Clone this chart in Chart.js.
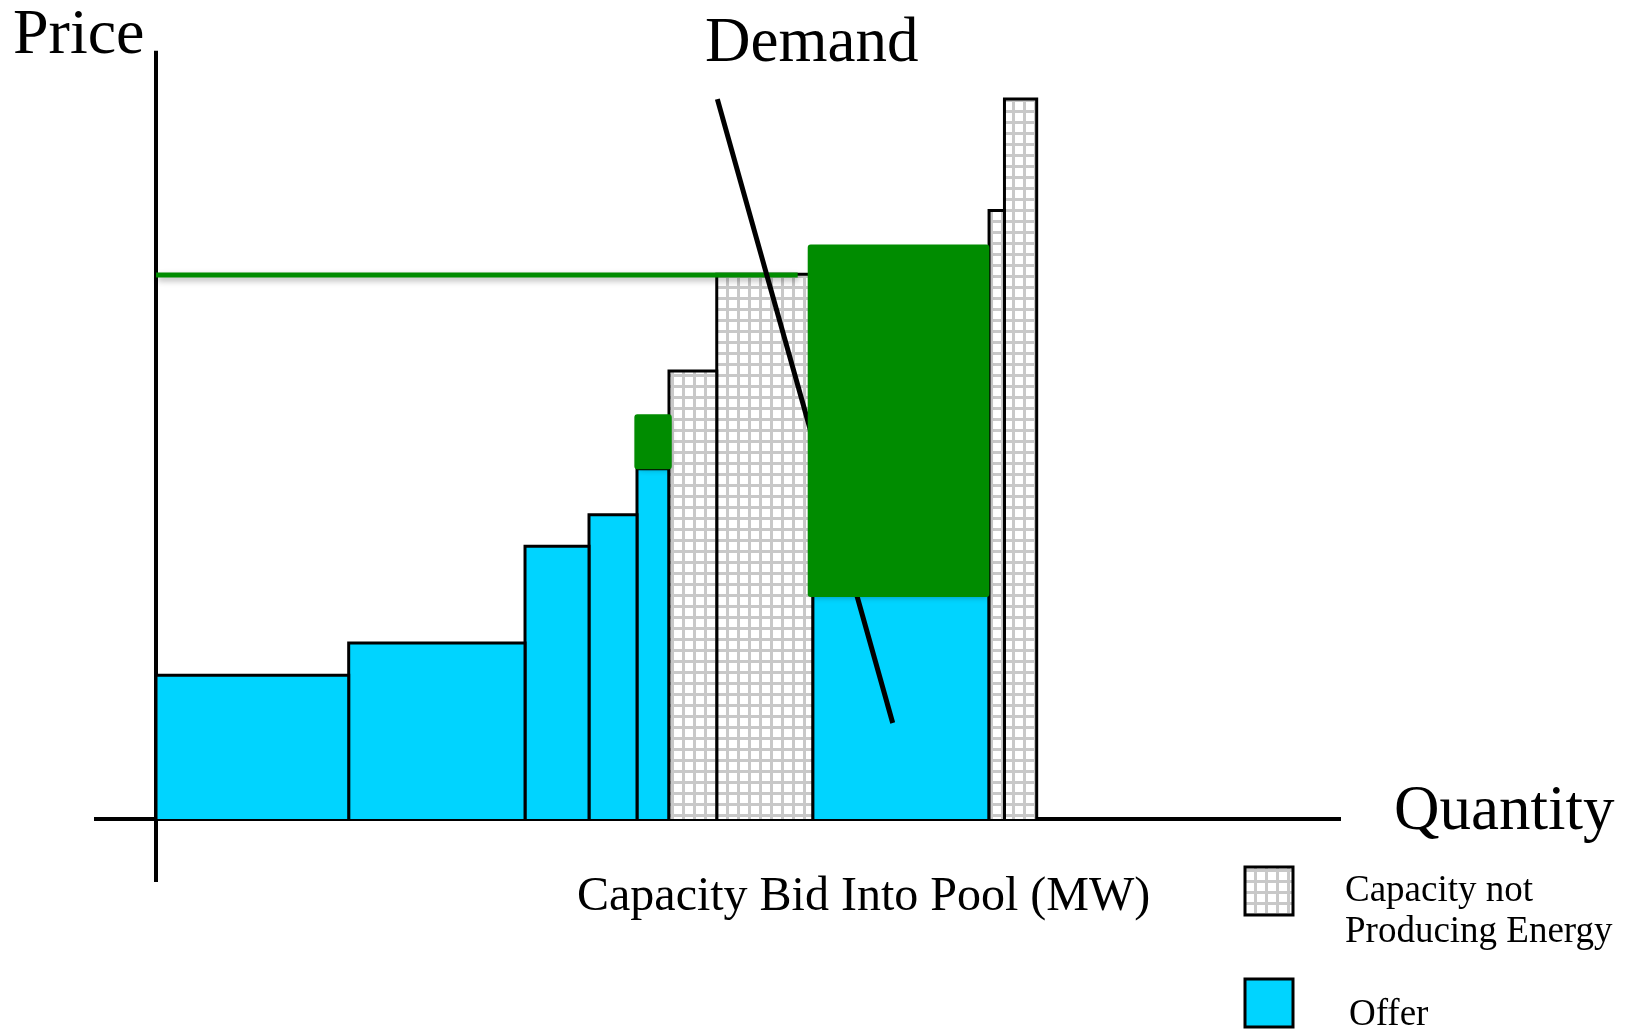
<!DOCTYPE html>
<html>
<head>
<meta charset="utf-8">
<script src="https://cdn.jsdelivr.net/npm/chart.js@4.4.1/dist/chart.umd.min.js"></script>
<style>
  html, body { margin: 0; padding: 0; background: #ffffff; }
  canvas { display: block; }
</style>
</head>
<body>
<canvas id="c" width="1635" height="1031"></canvas>
<script>
// ---------------- DATA (quantity in MW, price in $/MWh) ----------------
const offerStart = [0, 162.6, 311.4, 365.4, 405.9, 554.2];
const offerEnd   = [162.6, 311.4, 365.4, 405.9, 432.9, 703.0];
const offerPrice = [18.7, 22.9, 35.5, 39.6, 45.6, 74.0];

const idleStart = [432.9, 473.2, 703.0, 716.0];
const idleEnd   = [473.2, 554.2, 716.0, 743.2];
const idlePrice = [58.3, 70.9, 79.2, 93.7];

const dispStart = [406.2, 552.5];
const dispEnd   = [432.7, 700.7];
const dispLow   = [45.9, 29.3];
const dispHigh  = [52.3, 74.4];

const clearingPrice = 70.8;
const clearingQty   = [0, 541.5];

const demandQty   = [473.7, 621.7];
const demandPrice = [93.7, 12.5];

const xRange = [-52.5, 1000];
const yRange = [-8.2, 100];

const legendLabels = ['Capacity not', 'Producing Energy', 'Offer'];

// ---------------- STYLES ----------------
const CYAN = '#00D4FF';
const GREEN = '#008C00';
const SERIF = '"Liberation Serif", "Times New Roman", serif';

function makeHatch() {
  const p = document.createElement('canvas');
  p.width = 11; p.height = 11;
  const g = p.getContext('2d');
  g.fillStyle = '#ffffff'; g.fillRect(0, 0, 11, 11);
  g.fillStyle = '#c8c8c8';
  g.fillRect(0, 0, 11, 3);
  g.fillRect(0, 0, 3, 11);
  return document.getElementById('c').getContext('2d').createPattern(p, 'repeat');
}
const HATCH = makeHatch();

function rectPoints(x0, x1, h) {
  return [{x: x0, y: 0}, {x: x0, y: h}, {x: x1, y: h}, {x: x1, y: 0}];
}

const datasets = [];
// dispatched (green) blocks - on top
dispStart.forEach((s, i) => {
  datasets.push({
    label: 'Dispatched ' + (i + 1),
    data: [{x: s, y: dispLow[i]}, {x: s, y: dispHigh[i]}, {x: dispEnd[i], y: dispHigh[i]},
           {x: dispEnd[i], y: dispLow[i]}, {x: s, y: dispLow[i]}],
    borderColor: GREEN, backgroundColor: GREEN, borderWidth: 6,
    borderJoinStyle: 'round', borderCapStyle: 'round',
    fill: 'shape', pointRadius: 0, tension: 0, order: 1, shadow: 'fill'
  });
});
// demand line
datasets.push({
  label: 'Demand',
  data: demandQty.map((q, i) => ({x: q, y: demandPrice[i]})),
  borderColor: '#000000', borderWidth: 5, fill: false, pointRadius: 0, order: 2
});
// clearing price line
datasets.push({
  label: 'Clearing price',
  data: clearingQty.map(q => ({x: q, y: clearingPrice})),
  borderColor: GREEN, borderWidth: 5, fill: false, pointRadius: 0, order: 3, shadow: 'stroke'
});
// idle capacity
idleStart.forEach((s, i) => {
  datasets.push({
    label: 'Capacity not Producing Energy ' + (i + 1),
    data: rectPoints(s, idleEnd[i], idlePrice[i]),
    borderColor: '#000000', backgroundColor: HATCH, borderWidth: 3,
    fill: 'origin', pointRadius: 0, tension: 0, order: 10
  });
});
// offers
offerStart.forEach((s, i) => {
  datasets.push({
    label: 'Offer ' + (i + 1),
    data: rectPoints(s, offerEnd[i], offerPrice[i]),
    borderColor: '#000000', backgroundColor: CYAN, borderWidth: 3,
    fill: 'origin', pointRadius: 0, tension: 0, order: 11
  });
});

// ---------------- PLUGINS ----------------
const shadowOn = {
  id: 'softShadowOn',
  beforeDatasetDraw(chart, args) {
    const ds = chart.data.datasets[args.index];
    if (ds && ds.shadow) {
      const c = chart.ctx;
      c.save();
      c.shadowColor = 'rgba(0,0,0,0.32)';
      c.shadowBlur = 6;
      c.shadowOffsetX = 1.5;
      c.shadowOffsetY = 3;
    }
  },
  afterDatasetDraw(chart, args) {
    const ds = chart.data.datasets[args.index];
    if (ds && ds.shadow) chart.ctx.restore();
  }
};
const shadowOff = {
  id: 'softShadowOff',
  beforeDatasetDraw(chart, args) {
    const ds = chart.data.datasets[args.index];
    if (ds && ds.shadow === 'fill') chart.ctx.shadowColor = 'rgba(0,0,0,0)';
  }
};
try {
  const filler = Chart.Filler || Chart.registry.plugins.get('filler');
  Chart.unregister(filler);
  Chart.register(shadowOn);
  Chart.register(filler);
  Chart.register(shadowOff);
} catch (e) {
  Chart.register(shadowOn);
}

const textPlugin = {
  id: 'annotations',
  afterDraw(chart) {
    const c = chart.ctx;
    c.save();
    c.fillStyle = '#000000';
    c.textBaseline = 'alphabetic';
    c.textAlign = 'left';
    const put = (t, x, y, s) => { c.font = s + 'px ' + SERIF; c.fillText(t, x, y); };
    put('Price', 13, 53, 64);
    put('Demand', 705, 61, 63);
    put('Quantity', 1394, 829, 63);
    put('Capacity Bid Into Pool (MW)', 577, 910, 48);
    // legend
    c.lineWidth = 3;
    c.strokeStyle = '#000000';
    c.fillStyle = HATCH;
    c.fillRect(1245, 867, 48, 48);
    c.strokeRect(1245, 867, 48, 48);
    c.fillStyle = CYAN;
    c.fillRect(1245, 979, 48, 48);
    c.strokeRect(1245, 979, 48, 48);
    c.fillStyle = '#000000';
    put(legendLabels[0], 1345, 901, 37);
    put(legendLabels[1], 1345, 942, 37);
    put(legendLabels[2], 1349, 1025, 37);
    c.restore();
  }
};

const axisGrid = {
  color: (ctx) => (ctx.tick && ctx.tick.value === 0) ? '#000000' : 'rgba(0,0,0,0)',
  lineWidth: 4,
  drawTicks: false
};

new Chart(document.getElementById('c'), {
  type: 'line',
  data: { datasets },
  options: {
    responsive: false,
    devicePixelRatio: 1,
    animation: false,
    events: [],
    layout: { padding: { left: 93.8, right: 294, top: 50.7, bottom: 149 } },
    plugins: { legend: { display: false }, tooltip: { enabled: false }, title: { display: false } },
    elements: { line: { borderJoinStyle: 'miter' } },
    scales: {
      x: {
        type: 'linear', min: xRange[0], max: xRange[1], z: 1,
        ticks: { display: false },
        grid: axisGrid,
        border: { display: false },
        afterBuildTicks: (s) => { s.ticks = [{value: 0}]; }
      },
      y: {
        type: 'linear', min: yRange[0], max: yRange[1], z: 1,
        ticks: { display: false },
        grid: axisGrid,
        border: { display: false },
        afterBuildTicks: (s) => { s.ticks = [{value: 0}]; }
      }
    }
  },
  plugins: [textPlugin]
});
</script>
</body>
</html>
